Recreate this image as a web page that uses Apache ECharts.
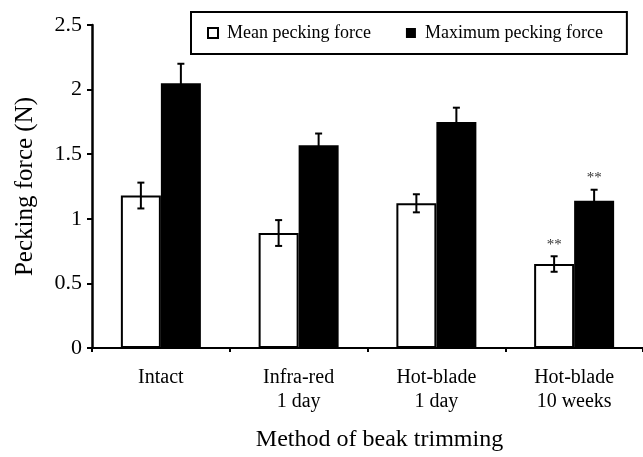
<!DOCTYPE html>
<html>
<head>
<meta charset="utf-8">
<script src="https://cdn.jsdelivr.net/npm/echarts@6/dist/echarts.min.js"></script>
<style>html,body{margin:0;padding:0;background:#fff}#c{width:643px;height:457px}</style>
</head>
<body>
<div id="c"></div>
<script>
var categories = ['Intact', 'Infra-red\n1 day', 'Hot-blade\n1 day', 'Hot-blade\n10 weeks'];
var meanForce = [1.18, 0.89, 1.12, 0.65];
var meanErr = [0.10, 0.10, 0.07, 0.06];
var meanSig = ['', '', '', '**'];
var maxForce = [2.05, 1.57, 1.75, 1.14];
var maxErr = [0.15, 0.09, 0.11, 0.085];
var maxSig = ['', '', '', '**'];
var yTicks = [0, 0.5, 1, 1.5, 2, 2.5];

var FONT = '"Liberation Serif", "Times New Roman", serif';
var BAR_W = 40;

function errData(vals, errs, sig) {
  return vals.map(function (v, i) { return [i, v - errs[i], v + errs[i], sig[i]]; });
}
function errSeries(name, vals, errs, sig, dir) {
  return {
    type: 'custom',
    name: name + ' error',
    data: errData(vals, errs, sig),
    encode: { x: 0, y: [1, 2] },
    z: 5,
    silent: true,
    renderItem: function (params, api) {
      var lo = api.coord([api.value(0), api.value(1)]);
      var hi = api.coord([api.value(0), api.value(2)]);
      var x = lo[0] + dir * BAR_W / 2;
      var cap = 3.5;
      var st = { stroke: '#000', lineWidth: 2 };
      var children = [
        { type: 'line', shape: { x1: x, y1: lo[1], x2: x, y2: hi[1] }, style: st },
        { type: 'line', shape: { x1: x - cap, y1: lo[1], x2: x + cap, y2: lo[1] }, style: st },
        { type: 'line', shape: { x1: x - cap, y1: hi[1], x2: x + cap, y2: hi[1] }, style: st }
      ];
      var s = sig[params.dataIndex];
      if (s) {
        children.push({ type: 'text', style: { text: s, x: x, y: hi[1] - 4, align: 'center', verticalAlign: 'bottom', font: '15px ' + FONT, fill: '#333' } });
      }
      return { type: 'group', children: children };
    }
  };
}

var chart = echarts.init(document.getElementById('c'));
chart.setOption({
  animation: false,
  backgroundColor: '#fff',
  textStyle: { fontFamily: FONT, color: '#000' },
  grid: { left: 92, right: 0, top: 25, bottom: 108 },
  legend: {
    data: ['Mean pecking force', 'Maximum pecking force'],
    left: 191, top: 12,
    padding: [12, 24, 12, 16],
    itemGap: 35,
    itemWidth: 10, itemHeight: 10,
    icon: 'rect',
    borderColor: '#000', borderWidth: 2,
    textStyle: { fontFamily: FONT, fontSize: 18, color: '#000', padding: [0, 0, 0, 4] }
  },
  xAxis: {
    type: 'category',
    data: categories,
    name: 'Method of beak trimming',
    nameLocation: 'middle',
    nameGap: 80,
    nameTextStyle: { fontFamily: FONT, fontSize: 24, color: '#000', padding: [0, 0, 0, 24] },
    axisLine: { lineStyle: { color: '#000', width: 2 } },
    axisTick: { show: true, length: 4, lineStyle: { color: '#000', width: 2 } },
    axisLabel: { fontFamily: FONT, fontSize: 20, color: '#000', lineHeight: 24, margin: 18 }
  },
  yAxis: {
    type: 'value',
    min: yTicks[0], max: yTicks[yTicks.length - 1], interval: 0.5,
    name: 'Pecking force (N)',
    nameLocation: 'middle',
    nameGap: 54,
    nameTextStyle: { fontFamily: FONT, fontSize: 25, color: '#000' },
    axisLine: { show: true, lineStyle: { color: '#000', width: 2.5 } },
    axisTick: { show: true, length: 5, lineStyle: { color: '#000', width: 2 } },
    axisLabel: { fontFamily: FONT, fontSize: 22, color: '#000', margin: 10 },
    splitLine: { show: false }
  },
  series: [
    {
      name: 'Mean pecking force', type: 'bar', data: meanForce,
      barWidth: BAR_W, barGap: '0%',
      itemStyle: { color: '#fff', borderColor: '#000', borderWidth: 2 }
    },
    {
      name: 'Maximum pecking force', type: 'bar', data: maxForce,
      barWidth: BAR_W, barGap: '0%',
      itemStyle: { color: '#000', borderColor: '#000', borderWidth: 0 }
    },
    errSeries('Mean pecking force', meanForce, meanErr, meanSig, -1),
    errSeries('Maximum pecking force', maxForce, maxErr, maxSig, 1)
  ]
});
</script>
</body>
</html>
